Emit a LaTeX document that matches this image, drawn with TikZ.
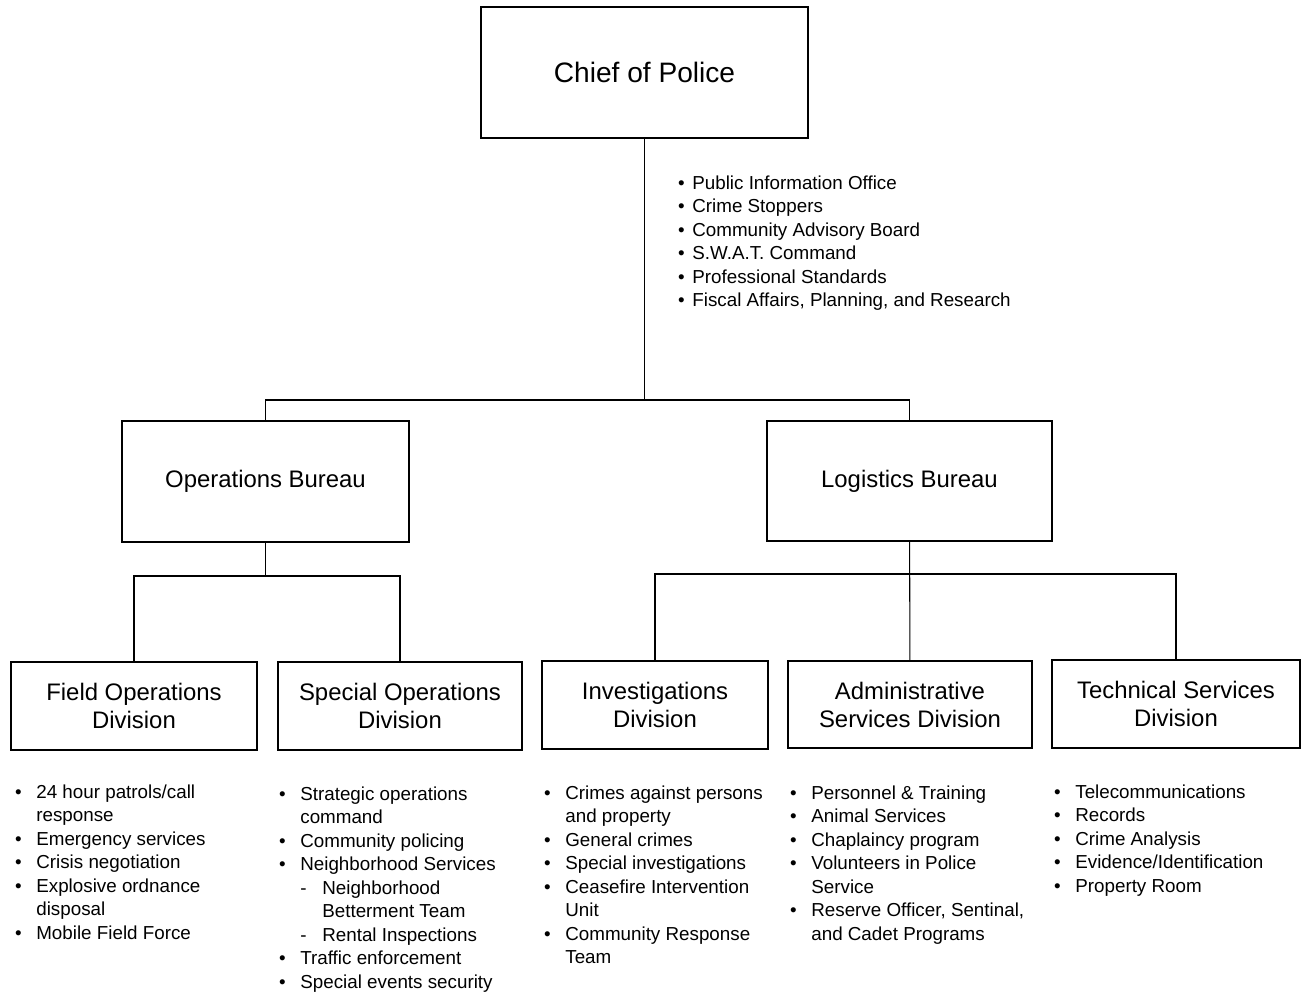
\documentclass[tikz,border=0pt]{standalone}
\usepackage{fontspec}
\setmainfont{Liberation Sans}
\usepackage{tikz}
\usetikzlibrary{positioning}

% bullet hung left of the text column
\newcommand{\itm}[1][8.3pt]{\llap{\textbullet\hspace{#1}}}
\newcommand{\subitm}{\makebox[12.5pt][l]{-}}

\begin{document}
\begin{tikzpicture}[x=0.02cm,y=-0.02cm,
  unit/.style={draw,line width=1pt,align=center,inner sep=2pt,
    font=\fontsize{13.6}{15.9}\selectfont},
  duties/.style={anchor=base west,inner sep=0pt,
    font=\fontsize{10.7}{13.4}\selectfont},
  link/.style={line width=.6pt}]
\useasboundingbox (0,0) rectangle (1306,994);

\node[unit,minimum width=6.54cm,minimum height=2.62cm,
  font=\fontsize{16}{19}\selectfont] (chief) at (644.5,72.5) {Chief of Police};
\node[unit,minimum width=5.74cm,minimum height=2.42cm] (ops) at (265.5,481.5) {Operations Bureau};
\node[unit,minimum width=5.70cm,minimum height=2.40cm] (log) at (909.5,481) {Logistics Bureau};

\node[unit,minimum width=4.92cm,minimum height=1.76cm] (field) at (134,706) {Field Operations\\Division};
\node[unit,minimum width=4.88cm,minimum height=1.76cm] (special) at (400,706) {Special Operations\\Division};
\node[unit,minimum width=4.52cm,minimum height=1.76cm] (invest) at (655,705) {Investigations\\Division};
\node[unit,minimum width=4.88cm,minimum height=1.74cm] (admin) at (910,704.5) {Administrative\\Services Division};
\node[unit,minimum width=4.96cm,minimum height=1.76cm] (tech) at (1176,704) {Technical Services\\Division};

% connectors
\coordinate (topbar) at (644.5,400);
\coordinate (opsbar) at (265.5,576);
\coordinate (logbar) at (909.5,574);
\draw[line width=.9pt] (chief) -- (topbar);
\draw[link] (ops.north) |- (topbar) -| (log.north);
\draw[link] (ops) -- (opsbar);
\draw[link] (field.north) |- (opsbar) -| (special.north);
\draw[link] (log) -- (admin);
\draw[link] (invest.north) |- (logbar) -| (tech.north);

% duty lists
\node[duties] (chieflist) at (692,189) {\begin{tabular}[t]{@{}l@{}}
\itm[4.4pt]Public Information Office\\
\itm[4.4pt]Crime Stoppers\\
\itm[4.4pt]Community Advisory Board\\
\itm[4.4pt]S.W.A.T. Command\\
\itm[4.4pt]Professional Standards\\
\itm[4.4pt]Fiscal Affairs, Planning, and Research
\end{tabular}};

\node[duties] (fieldlist) at (36,798) {\begin{tabular}[t]{@{}l@{}}
\itm 24 hour patrols/call\\
response\\
\itm Emergency services\\
\itm Crisis negotiation\\
\itm Explosive ordnance\\
disposal\\
\itm Mobile Field Force
\end{tabular}};

\node[duties] (speciallist) at (300,800) {\begin{tabular}[t]{@{}l@{}}
\itm Strategic operations\\
command\\
\itm Community policing\\
\itm Neighborhood Services\\
\subitm Neighborhood\\
\hspace*{12.5pt}Betterment Team\\
\subitm Rental Inspections\\
\itm Traffic enforcement\\
\itm Special events security
\end{tabular}};

\node[duties] (investlist) at (565,799) {\begin{tabular}[t]{@{}l@{}}
\itm Crimes against persons\\
and property\\
\itm General crimes\\
\itm Special investigations\\
\itm Ceasefire Intervention\\
Unit\\
\itm Community Response\\
Team
\end{tabular}};

\node[duties] (adminlist) at (811,799) {\begin{tabular}[t]{@{}l@{}}
\itm Personnel \& Training\\
\itm Animal Services\\
\itm Chaplaincy program\\
\itm Volunteers in Police\\
Service\\
\itm Reserve Officer, Sentinal,\\
and Cadet Programs
\end{tabular}};

\node[duties] (techlist) at (1075,798) {\begin{tabular}[t]{@{}l@{}}
\itm Telecommunications\\
\itm Records\\
\itm Crime Analysis\\
\itm Evidence/Identification\\
\itm Property Room
\end{tabular}};
\end{tikzpicture}
\end{document}
